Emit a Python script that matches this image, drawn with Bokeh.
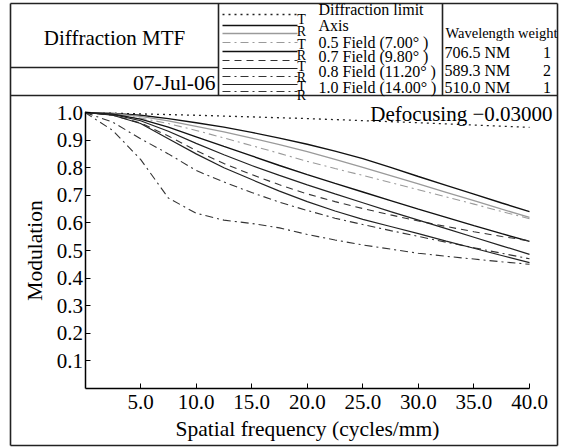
from bokeh.plotting import figure
from bokeh.models import Range1d, LinearAxis, FixedTicker, NumeralTickFormatter
from bokeh.core.properties import value
from bokeh.embed import file_html
from bokeh.resources import INLINE

# ---------------- data ----------------
freq = [0, 2.5, 5, 7.5, 10, 12.5, 15, 17.5, 20, 22.5, 25, 27.5, 30, 32.5, 35, 37.5, 40]
diff_freq = [0, 10, 20, 30, 40]
diff_limit = [1.0, 0.99, 0.978, 0.963, 0.946]
axis_t = [1.0, .997, .99, .978, .963, .947, .928, .907, .885, .86, .833, .801, .768, .736, .704, .672, .641]
axis_r = [1.0, .996, .986, .97, .95, .93, .907, .884, .858, .83, .801, .771, .741, .711, .681, .65, .62]
f05_t = [1.0, .995, .98, .96, .935, .908, .88, .852, .823, .797, .772, .746, .72, .694, .668, .641, .615]
f05_r = [1.0, .994, .976, .947, .912, .877, .843, .808, .775, .743, .712, .681, .65, .62, .59, .561, .533]
f07_t = [1.0, .99, .962, .915, .862, .815, .775, .738, .705, .677, .652, .629, .607, .587, .568, .551, .535]
f07_r = [1.0, .993, .97, .932, .888, .847, .808, .772, .738, .705, .673, .641, .61, .579, .548, .517, .486]
f08_t = [1.0, .965, .905, .85, .79, .748, .71, .675, .645, .617, .594, .572, .551, .53, .51, .49, .47]
f08_r = [1.0, .99, .96, .905, .85, .80, .757, .715, .677, .643, .613, .587, .561, .534, .508, .482, .456]
f10 = [1.0, .935, .83, .69, .635, .61, .598, .582, .558, .538, .52, .505, .49, .479, .469, .459, .45]

x_ticks = [5, 10, 15, 20, 25, 30, 35, 40]
y_ticks = [0.1, 0.2, 0.3, 0.4, 0.5, 0.6, 0.7, 0.8, 0.9, 1.0]

title_text = "Diffraction MTF"
date_text = "07-Jul-06"
legend_labels = ["Diffraction limit", "Axis", "0.5 Field (7.00\u00b0  )", "0.7 Field (9.80\u00b0  )",
                 "0.8 Field (11.20\u00b0  )", "1.0 Field (14.00\u00b0  )"]
tr_labels = ["T", "R", "T", "R", "T", "R", "T", "R"]
wl_header = "Wavelength weight"
wavelengths = ["706.5 NM", "589.3 NM", "510.0 NM"]
weights = ["1", "2", "1"]
defocus_text = "Defocusing \u22120.03000"
x_label = "Spatial frequency (cycles/mm)"
y_label = "Modulation"

# ---------------- styles ----------------
FONT = value("Liberation Serif")
W, H = 570, 448
PX0, PX40 = 84.5, 529.0
PY0, PY1 = 388.0, 112.0
sx = (PX40 - PX0) / 40.0
sy = (PY0 - PY1) / 1.0

p = figure(width=W, height=H,
           x_range=Range1d(-PX0 / sx, 40 + (W - PX40) / sx),
           y_range=Range1d(-(H - PY0) / sy, 1 + PY1 / sy),
           output_backend="svg", toolbar_location=None,
           x_axis_location=None, y_axis_location=None,
           min_border=0)
p.min_border_left = p.min_border_right = p.min_border_top = p.min_border_bottom = 0
p.xgrid.grid_line_color = None
p.ygrid.grid_line_color = None
p.outline_line_color = None
p.background_fill_color = "white"
p.border_fill_color = "white"

p.extra_x_ranges = {"px": Range1d(0, W)}
p.extra_y_ranges = {"px": Range1d(H, 0)}

def style_axis(ax):
    ax.axis_line_color = "black"
    ax.axis_line_width = 1.5
    ax.major_tick_in = 5
    ax.major_tick_out = 0
    ax.major_tick_line_color = "black"
    ax.minor_tick_line_color = None
    ax.major_label_text_font = "Liberation Serif"
    ax.major_label_text_font_size = "21px"
    ax.major_label_text_color = "black"
    ax.axis_label_text_font = "Liberation Serif"
    ax.axis_label_text_font_size = "21.5px"
    ax.axis_label_text_font_style = "normal"
    ax.axis_label_text_color = "black"

xaxis = LinearAxis(fixed_location=0, bounds=(0, 40), ticker=FixedTicker(ticks=x_ticks),
                   formatter=NumeralTickFormatter(format="0.0"), axis_label=x_label)
style_axis(xaxis)
xaxis.major_label_standoff = 6
xaxis.axis_label_standoff = 5
p.add_layout(xaxis, "below")

yaxis = LinearAxis(fixed_location=0, bounds=(0, 1), ticker=FixedTicker(ticks=y_ticks),
                   formatter=NumeralTickFormatter(format="0.0"), axis_label=y_label)
style_axis(yaxis)
yaxis.major_label_standoff = 2
yaxis.axis_label_standoff = 7
p.add_layout(yaxis, "left")

DOT = "2 4"
DASHDOT = "8 4 2 4"
DASHED = "7 5"
series = [
    (axis_t, "#111111", 1.4, "solid"),
    (axis_r, "#9a9a9a", 1.3, "solid"),
    (f05_t, "#9a9a9a", 1.1, DASHDOT),
    (f05_r, "#111111", 1.4, "solid"),
    (f07_t, "#333333", 1.1, DASHED),
    (f07_r, "#222222", 1.2, "solid"),
    (f08_t, "#333333", 1.1, DASHDOT),
    (f08_r, "#222222", 1.2, "solid"),
    (f10, "#333333", 1.1, DASHDOT),
]
p.line(diff_freq, diff_limit, line_color="#222222", line_width=1.3, line_dash=DOT)
for ys, col, lw, dash in series:
    p.line(freq, ys, line_color=col, line_width=lw, line_dash=dash)

# ---------------- header / frame decorations (pixel space) ----------------
kw = dict(x_range_name="px", y_range_name="px")
box_x0 = [10, 10, 557, 10, 10, 218, 442, 10]
box_y0 = [3, 3, 3, 445, 95, 3, 3, 67]
box_x1 = [557, 10, 557, 557, 557, 218, 442, 218]
box_y1 = [3, 445, 445, 445, 95, 95, 95, 67]
p.segment(box_x0, box_y0, box_x1, box_y1, line_color="#222222", line_width=1.6, **kw)

p.text(x=[114], y=[37], text=[title_text], text_font=FONT, text_font_size=value("21px"),
       text_align="center", text_baseline="middle", text_color="black", **kw)
p.text(x=[215], y=[82], text=[date_text], text_font=FONT, text_font_size=value("21.5px"),
       text_align="right", text_baseline="middle", text_color="black", **kw)

# legend sample lines
leg_styles = [("#222222", 1.3, DOT)] + [(c, lw, d) for _, c, lw, d in series]
leg_y = [14, 25, 33, 42, 51, 60, 68, 76, 84, 91]
for (col, lw, dash), yy in zip(leg_styles, leg_y):
    p.line([222, 297], [yy, yy], line_color=col, line_width=lw, line_dash=dash, **kw)

p.text(x=[301] * len(tr_labels), y=[19, 31, 44, 55, 66, 77, 86, 95], text=tr_labels,
       text_font=FONT, text_font_size=value("14px"), text_align="center",
       text_baseline="middle", text_color="black", **kw)
p.text(x=[318] * len(legend_labels), y=[9, 25, 41.5, 55.5, 71, 87], text=legend_labels,
       text_font=FONT, text_font_size=value("16px"), text_align="left",
       text_baseline="middle", text_color="black", **kw)

p.text(x=[445], y=[32], text=[wl_header], text_font=FONT, text_font_size=value("14.5px"),
       text_align="left", text_baseline="middle", text_color="black", **kw)
p.text(x=[444] * 3, y=[52, 69.5, 87], text=wavelengths, text_font=FONT,
       text_font_size=value("16px"), text_align="left", text_baseline="middle",
       text_color="black", **kw)
p.text(x=[546.5] * 3, y=[52, 69.5, 87], text=weights, text_font=FONT,
       text_font_size=value("16px"), text_align="center", text_baseline="middle",
       text_color="black", **kw)

p.text(x=[552], y=[113], text=[defocus_text], text_font=FONT, text_font_size=value("21px"),
       text_align="right", text_baseline="middle", text_color="black", **kw)

open("out.html", "w").write(file_html(p, INLINE))
